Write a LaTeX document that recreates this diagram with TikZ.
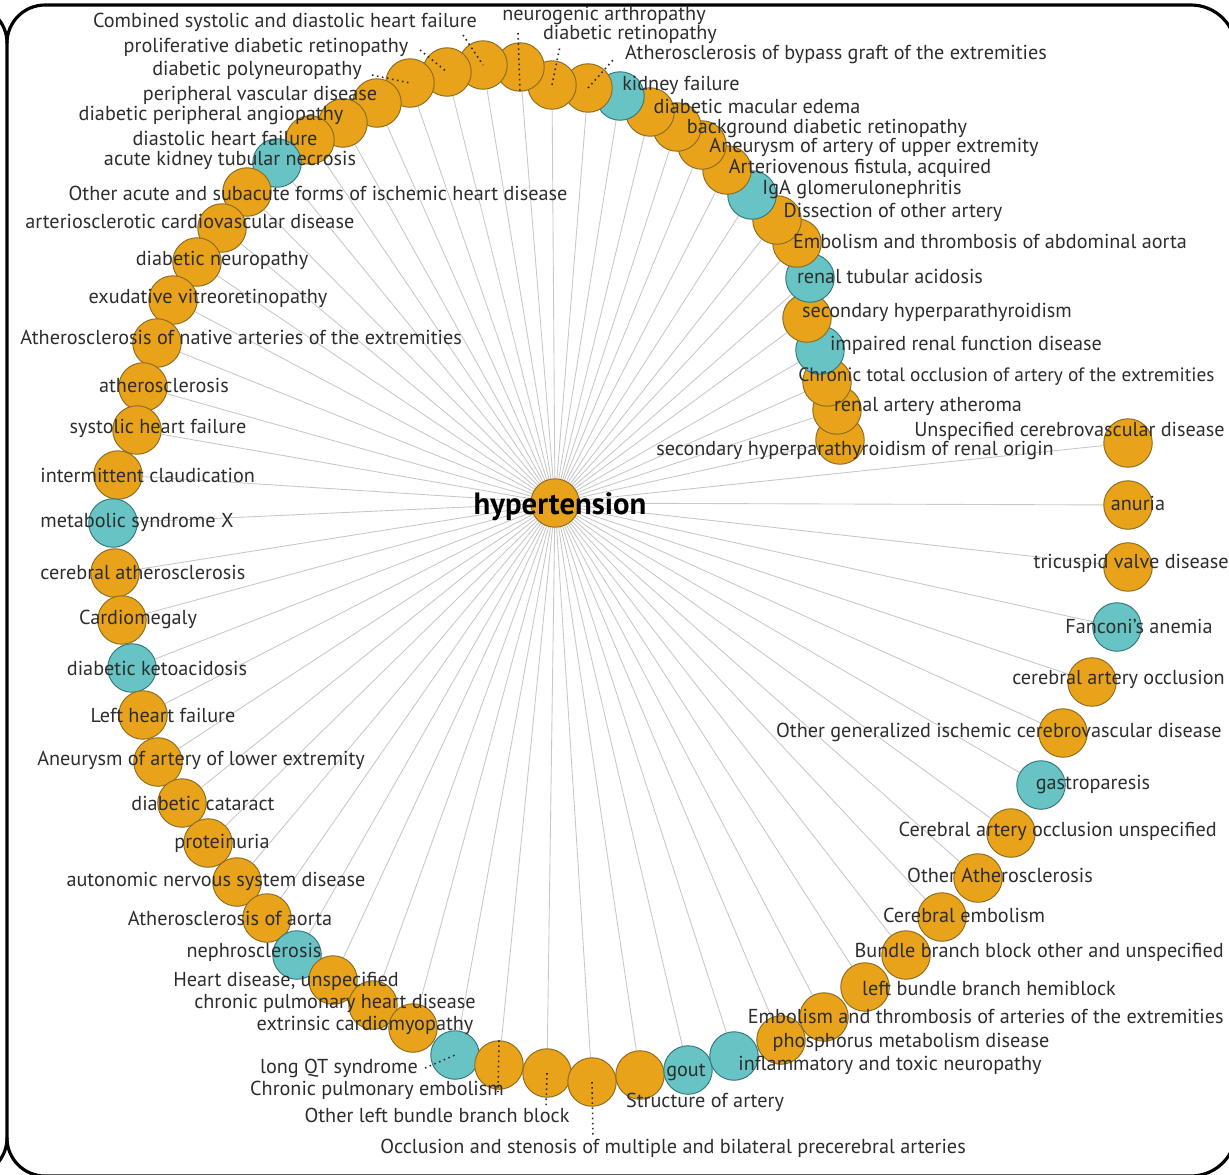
\documentclass[tikz,border=0pt]{standalone}
\usepackage{fontspec}
\newfontfamily\netfont{PT Sans}
\usetikzlibrary{backgrounds}

\definecolor{dorange}{RGB}{233,163,27}
\definecolor{dorangeline}{RGB}{140,108,32}
\definecolor{dteal}{RGB}{104,196,196}
\definecolor{dtealline}{RGB}{52,120,124}
\definecolor{spokegray}{RGB}{200,200,200}
\definecolor{textgray}{RGB}{45,45,45}

\tikzset{
  onode/.style={circle, draw=dorangeline, fill=dorange, line width=0.55pt, minimum size=0.97cm, inner sep=0pt},
  tnode/.style={onode, draw=dtealline, fill=dteal},
  lbl/.style={text=textgray, inner sep=0pt, font=\netfont\fontsize{11.5}{13}\selectfont},
  spoke/.style={draw=spokegray, line width=0.5pt},
  leader/.style={draw=textgray, dotted, line width=0.9pt},
  panel/.style={draw=black, line width=1.8pt},
}

\begin{document}
\begin{tikzpicture}[x=0.02cm, y=-0.02cm]
	\useasboundingbox (0,0) rectangle (1229,1174);

	% Drawing the panel frame
	\draw[panel] (7,43) arc[start angle=180, end angle=90, radius=0.76cm] -- (1191,5)
		arc[start angle=90, end angle=0, radius=0.9cm] -- (1236,1131)
		arc[start angle=0, end angle=-90, radius=0.9cm] -- (45,1176)
		arc[start angle=270, end angle=180, radius=0.76cm] -- cycle;
	\draw[panel] (7,43) arc[start angle=0, end angle=90, radius=0.76cm];
	\draw[panel] (7,1138) arc[start angle=0, end angle=-90, radius=0.76cm];

	% Drawing the central node
	\node[onode] (ht) at (555,503) {};

	% Drawing the disease nodes
	\node[onode] (n1) at (840,440) {};
	\node[onode] (n2) at (837,410) {};
	\node[onode] (n3) at (827,382) {};
	\node[tnode] (n4) at (820,350) {};
	\node[onode] (n5) at (807,318) {};
	\node[tnode] (n6) at (810,278) {};
	\node[onode] (n7) at (797,243) {};
	\node[onode] (n8) at (777,220) {};
	\node[tnode] (n9) at (752,195) {};
	\node[onode] (n10) at (727,170) {};
	\node[onode] (n11) at (702,145) {};
	\node[onode] (n12) at (677,127) {};
	\node[onode] (n13) at (650,112) {};
	\node[tnode] (n14) at (620,96) {};
	\node[onode] (n15) at (588,88) {};
	\node[onode] (n16) at (552,85) {};
	\node[onode] (n17) at (520,67) {};
	\node[onode] (n18) at (483,65) {};
	\node[onode] (n19) at (447,72) {};
	\node[onode] (n20) at (410,83) {};
	\node[onode] (n21) at (377,103) {};
	\node[onode] (n22) at (343,123) {};
	\node[onode] (n23) at (310,140) {};
	\node[tnode] (n24) at (277,163) {};
	\node[onode] (n25) at (247,192) {};
	\node[onode] (n26) at (222,228) {};
	\node[onode] (n27) at (197,262) {};
	\node[onode] (n28) at (173,300) {};
	\node[onode] (n29) at (157,343) {};
	\node[onode] (n30) at (143,387) {};
	\node[onode] (n31) at (137,430) {};
	\node[onode] (n32) at (118,475) {};
	\node[tnode] (n33) at (113,523) {};
	\node[onode] (n34) at (115,573) {};
	\node[onode] (n35) at (122,620) {};
	\node[tnode] (n36) at (132,668) {};
	\node[onode] (n37) at (143,715) {};
	\node[onode] (n38) at (158,762) {};
	\node[onode] (n39) at (182,803) {};
	\node[onode] (n40) at (208,843) {};
	\node[onode] (n41) at (237,882) {};
	\node[onode] (n42) at (267,918) {};
	\node[tnode] (n43) at (297,955) {};
	\node[onode] (n44) at (333,980) {};
	\node[onode] (n45) at (373,1005) {};
	\node[onode] (n46) at (413,1028) {};
	\node[tnode] (n47) at (455,1055) {};
	\node[onode] (n48) at (499,1065) {};
	\node[onode] (n49) at (547,1073) {};
	\node[onode] (n50) at (592,1082) {};
	\node[onode] (n51) at (640,1075) {};
	\node[tnode] (n52) at (688,1070) {};
	\node[tnode] (n53) at (734,1056) {};
	\node[onode] (n54) at (781,1040) {};
	\node[onode] (n55) at (824,1017) {};
	\node[onode] (n56) at (865,987) {};
	\node[onode] (n57) at (906,955) {};
	\node[onode] (n58) at (942,917) {};
	\node[onode] (n59) at (978,878) {};
	\node[onode] (n60) at (1011,833) {};
	\node[tnode] (n61) at (1041,785) {};
	\node[onode] (n62) at (1063,733) {};
	\node[onode] (n63) at (1092,682) {};
	\node[tnode] (n64) at (1117,627) {};
	\node[onode] (n65) at (1128,567) {};
	\node[onode] (n66) at (1128,505) {};
	\node[onode] (n67) at (1128,443) {};

	% Drawing the spokes from the centre
	\begin{scope}[on background layer]
		\foreach \i in {1,...,67}
			\draw[spoke] (ht) -- (n\i);
	\end{scope}

	% Drawing the dotted leaders
	\coordinate (t15) at (613,60);
	\coordinate (t16) at (560,46);
	\coordinate (t17) at (518,33);
	\coordinate (t18) at (463,35);
	\coordinate (t19) at (420,50);
	\coordinate (t20) at (372,75);
	\coordinate (t47) at (425,1068);
	\coordinate (t48) at (498,1092);
	\coordinate (t49) at (546,1108);
	\coordinate (t50) at (593,1138);
	\draw[leader] (n15.center) -- (t15);
	\draw[leader] (n16.center) -- (t16);
	\draw[leader] (t17) -- (n17.south);
	\draw[leader] (t18) -- (n18.center);
	\draw[leader] (t19) -- (n19.center);
	\draw[leader] (t20) -- (n20.center);
	\draw[leader] (t47) -- (n47.center);
	\draw[leader] (n48.north) -- (t48);
	\draw[leader] (n49.center) -- (t49);
	\draw[leader] (n50.center) -- (t50);

	% Drawing the labels
	\node[text=black, inner sep=0pt, font=\netfont\bfseries\fontsize{17.5}{20}\selectfont] (htl) at (560,507) {hypertension};
	\node[lbl] (l1) at (855,450) {secondary hyperparathyroidism of renal origin};
	\node[lbl] (l2) at (928,406) {renal artery atheroma};
	\node[lbl, anchor=west, font=\netfont\fontsize{11}{13}\selectfont] (l3) at (798,377) {Chronic total occlusion of artery of the extremities};
	\node[lbl] (l4) at (966,345) {impaired renal function disease};
	\node[lbl] (l5) at (937,312) {secondary hyperparathyroidism};
	\node[lbl] (l6) at (890,276) {renal tubular acidosis};
	\node[lbl] (l7) at (990,241) {Embolism and thrombosis of abdominal aorta};
	\node[lbl] (l8) at (893,212) {Dissection of other artery};
	\node[lbl] (l9) at (862,189) {IgA glomerulonephritis};
	\node[lbl] (l10) at (860,168) {Arteriovenous fistula, acquired};
	\node[lbl] (l11) at (874,147) {Aneurysm of artery of upper extremity};
	\node[lbl] (l12) at (827,128) {background diabetic retinopathy};
	\node[lbl] (l13) at (757,106) {diabetic macular edema};
	\node[lbl] (l14) at (681,85) {kidney failure};
	\node[lbl] (l15) at (836,54) {Atherosclerosis of bypass graft of the extremities};
	\node[lbl] (l16) at (630,34) {diabetic retinopathy};
	\node[lbl] (l17) at (604,15) {neurogenic arthropathy};
	\node[lbl] (l18) at (285,22) {Combined systolic and diastolic heart failure};
	\node[lbl] (l19) at (266,47) {proliferative diabetic retinopathy};
	\node[lbl] (l20) at (257,70) {diabetic polyneuropathy};
	\node[lbl] (l21) at (260,95) {peripheral vascular disease};
	\node[lbl] (l22) at (211,115) {diabetic peripheral angiopathy};
	\node[lbl] (l23) at (225,138) {diastolic heart failure};
	\node[lbl] (l24) at (230,160) {acute kidney tubular necrosis};
	\node[lbl] (l25) at (318,193) {Other acute and subacute forms of ischemic heart disease};
	\node[lbl, anchor=west] (l26) at (25,221) {arteriosclerotic cardiovascular disease};
	\node[lbl] (l27) at (222,260) {diabetic neuropathy};
	\node[lbl] (l28) at (208,298) {exudative vitreoretinopathy};
	\node[lbl, anchor=west] (l29) at (20,337) {Atherosclerosis of native arteries of the extremities};
	\node[lbl] (l30) at (164,385) {atherosclerosis};
	\node[lbl] (l31) at (158,428) {systolic heart failure};
	\node[lbl, anchor=west] (l32) at (40,475) {intermittent claudication};
	\node[lbl, anchor=west] (l33) at (40,522) {metabolic syndrome X};
	\node[lbl, anchor=west] (l34) at (40,572) {cerebral atherosclerosis};
	\node[lbl] (l35) at (138,619) {Cardiomegaly};
	\node[lbl] (l36) at (157,668) {diabetic ketoacidosis};
	\node[lbl] (l37) at (163,715) {Left heart failure};
	\node[lbl, anchor=west] (l38) at (37,760) {Aneurysm of artery of lower extremity};
	\node[lbl] (l39) at (203,803) {diabetic cataract};
	\node[lbl] (l40) at (222,843) {proteinuria};
	\node[lbl] (l41) at (216,881) {autonomic nervous system disease};
	\node[lbl] (l42) at (230,918) {Atherosclerosis of aorta};
	\node[lbl] (l43) at (254,952) {nephrosclerosis};
	\node[lbl] (l44) at (286,981) {Heart disease, unspecified};
	\node[lbl] (l45) at (335,1003) {chronic pulmonary heart disease};
	\node[lbl] (l46) at (365,1025) {extrinsic cardiomyopathy};
	\node[lbl] (l47) at (339,1068) {long QT syndrome};
	\node[lbl] (l48) at (377,1090) {Chronic pulmonary embolism};
	\node[lbl] (l49) at (437,1115) {Other left bundle branch block};
	\node[lbl] (l50) at (673,1148) {Occlusion and stenosis of multiple and bilateral precerebral arteries};
	\node[lbl] (l51) at (705,1102) {Structure of artery};
	\node[lbl] (l52) at (686,1072) {gout};
	\node[lbl] (l53) at (890,1065) {inflammatory and toxic neuropathy};
	\node[lbl] (l54) at (911,1042) {phosphorus metabolism disease};
	\node[lbl, anchor=east] (l55) at (1224,1016) {Embolism and thrombosis of arteries of the extremities};
	\node[lbl] (l56) at (989,988) {left bundle branch hemiblock};
	\node[lbl, anchor=east] (l57) at (1224,952) {Bundle branch block other and unspecified};
	\node[lbl] (l58) at (964,915) {Cerebral embolism};
	\node[lbl] (l59) at (1000,875) {Other Atherosclerosis};
	\node[lbl, anchor=east] (l60) at (1217,831) {Cerebral artery occlusion unspecified};
	\node[lbl] (l61) at (1093,784) {gastroparesis};
	\node[lbl, anchor=east] (l62) at (1222,732) {Other generalized ischemic cerebrovascular disease};
	\node[lbl, anchor=east] (l63) at (1225,679) {cerebral artery occlusion};
	\node[lbl] (l64) at (1139,626) {Fanconi’s anemia};
	\node[lbl, anchor=east] (l65) at (1229,563) {tricuspid valve disease};
	\node[lbl] (l66) at (1138,503) {anuria};
	\node[lbl, anchor=east] (l67) at (1225,431) {Unspecified cerebrovascular disease};
\end{tikzpicture}
\end{document}
